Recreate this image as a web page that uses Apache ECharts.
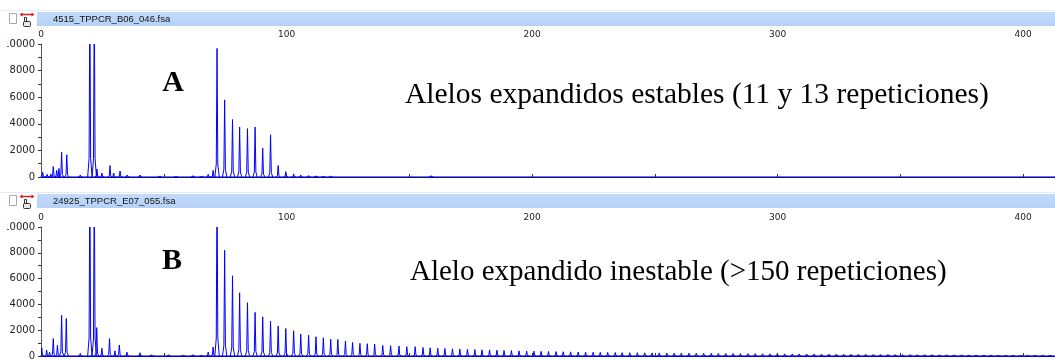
<!DOCTYPE html>
<html>
<head>
<meta charset="utf-8">
<script src="https://cdn.jsdelivr.net/npm/echarts@6/dist/echarts.min.js"></script>
<style>
  html, body { margin: 0; padding: 0; background: #ffffff; overflow: hidden; }
  #chart { position: absolute; left: 0; top: 0; width: 1055px; height: 361px; }
</style>
</head>
<body>
<div id="chart"></div>
<script>
// Fragment size axis (bp) and signal axis (RFU)
const xTickLabels = [0, 100, 200, 300, 400];
const yTickLabels = [0, 2000, 4000, 6000, 8000, 10000];

const fileA = '4515_TPPCR_B06_046.fsa';
const fileB = '24925_TPPCR_E07_055.fsa';
const noteA = 'Alelos expandidos estables (11 y 13 repeticiones)';
const noteB = 'Alelo expandido inestable (>150 repeticiones)';

// Panel A: peak positions (bp) and heights (RFU)
const peaksAPos = [
  0.7, 2.5, 4.0, 5.0, 6.4, 7.3, 8.4, 10.5, 16.0, 19.9, 21.7, 22.8, 24.8, 28.1, 29.6,
  32.2, 35.1, 40.3, 48.4, 55.0, 61.9, 65.4, 68.1, 70.1,
  71.7, 74.8, 78.0, 80.9, 84.1, 87.2, 90.3, 93.5, 96.6, 99.7, 102.9, 105.8, 109.0,
  112.0, 115.0, 118.0, 158.9
];
const peaksAHeight = [
  350, 200, 220, 780, 500, 650, 1870, 1670, 150, 14000, 14000, 600, 300, 860, 300,
  450, 150, 150, 80, 60, 100, 70, 200, 500,
  9670, 5800, 4320, 3760, 3640, 3760, 2170, 3180, 860, 400, 230, 150, 110,
  90, 70, 60, 100
];

// Panel B: peak positions (bp) and heights (RFU)
const peaksBPos = [
  0.3, 2.3, 3.5, 5.0, 6.7, 8.4, 10.3, 16.0, 19.9, 21.7, 22.7, 24.8, 27.9, 30.1,
  31.9, 35.0, 40.3, 45.0, 52.0, 58.0, 61.9, 65.4, 68.1, 70.1,
  71.7, 74.8, 78.0, 80.9, 84.1, 87.2, 90.3, 93.5, 96.6, 99.7, 102.9, 105.8, 109.0,
  112.0, 115.0, 118.0, 120.9, 124.0, 126.9, 129.9, 132.9, 135.9, 139.2, 142.4,
  145.8, 149.0, 152.4, 155.6, 158.5,
  161.6, 164.5, 167.6, 170.6, 173.7, 176.7, 179.6, 182.7, 185.7, 188.6, 191.6,
  194.7, 197.8, 200.8, 203.7, 206.7, 209.8, 212.7, 215.7, 218.8, 221.8, 224.9,
  227.8, 230.8, 233.9, 236.7, 239.8, 242.9, 245.9, 248.9, 251.8, 254.9, 257.9,
  260.8, 263.9, 266.9, 269.9, 273.0, 275.9, 278.9, 281.9, 284.9, 288.0, 290.9,
  293.9, 296.9, 299.9, 302.9, 306.0, 308.8, 311.9, 314.9, 317.9, 320.9, 323.9,
  326.9, 329.9, 332.9, 335.9, 339.0, 341.9, 345.0, 347.9, 350.9, 354.0, 356.9,
  359.9, 362.9, 365.9, 368.9, 371.9, 375.0, 377.9, 380.9, 384.0, 386.9, 389.9,
  392.9, 395.9, 399.0, 401.9, 404.9, 408.0, 411.0
];
const peaksBHeight = [
  640, 460, 300, 1350, 840, 3150, 2900, 200, 14000, 14000, 2200, 600, 1350, 400,
  850, 300, 250, 100, 100, 80, 100, 80, 300, 700,
  14000, 8200, 6220, 4900, 4130, 3380, 3030, 2690, 2330, 2130, 1950, 1690, 1610,
  1490, 1410, 1300, 1280, 1160, 1050, 980, 950, 920, 820, 800,
  770, 720, 720, 660, 640,
  600, 590, 560, 540, 520, 500, 480, 470, 450, 430, 420,
  400, 390, 380, 360, 350, 340, 330, 320, 310, 300, 290,
  285, 275, 270, 260, 255, 250, 245, 240, 235, 230, 225,
  220, 215, 210, 205, 200, 200, 195, 190, 185, 180, 180,
  175, 170, 170, 165, 160, 160, 155, 150, 150, 145, 140,
  140, 135, 130, 130, 125, 120, 120, 115, 110, 110, 105,
  100, 100, 95, 95, 90, 90, 85, 85, 80, 80, 75,
  75, 70, 70, 65, 65, 60, 60
];

const TRACE = '#0000ff';
const PEAK_HALF_WIDTH = 2.2; // px at the base of each peak
const X_MAX = 413;
const GRID_LEFT = 41, GRID_WIDTH = 1015, GRID_HEIGHT = 133;
const PANEL_TOPS = [44, 227];
const FONT_UI = 'DejaVu Sans';

function pairs(pos, h) { return pos.map((p, i) => [p, h[i]]); }

// Each peak is a narrow spike drawn from its base at 0 up to its height
function renderPeak(params, api) {
  const x = api.value(0), h = api.value(1);
  const b = api.coord([x, 0]);
  const t = api.coord([x, h]);
  const dh = b[1] - t[1];
  const w = PEAK_HALF_WIDTH;
  return {
    type: 'polyline',
    shape: { points: [
      [b[0] - w, b[1]],
      [b[0] - w * 0.35, b[1] - dh * 0.1],
      [t[0], t[1]],
      [b[0] + w * 0.35, b[1] - dh * 0.1],
      [b[0] + w, b[1]]
    ] },
    style: { stroke: TRACE, fill: null, lineWidth: 1 }
  };
}

function topAxis(gi) {
  return {
    gridIndex: gi, type: 'value', position: 'top', min: 0, max: X_MAX, interval: 50,
    axisLine: { show: true, lineStyle: { color: '#5a5a5a', width: 1.5 } },
    axisTick: { show: true, length: 3, lineStyle: { color: '#333', width: 1 } },
    axisLabel: {
      show: true, margin: 5, color: '#222', fontFamily: FONT_UI, fontSize: 9,
      showMaxLabel: false,
      formatter: v => (xTickLabels.indexOf(v) >= 0 ? String(v) : '')
    },
    splitLine: { show: false }
  };
}
function baseAxis(gi) {
  return {
    gridIndex: gi, type: 'value', position: 'bottom', min: 0, max: X_MAX,
    axisLine: { show: true, onZero: false, lineStyle: { color: TRACE, width: 1 } },
    axisTick: { show: false }, axisLabel: { show: false }, splitLine: { show: false }
  };
}
function leftAxis(gi) {
  return {
    gridIndex: gi, type: 'value', min: 0, max: 10000, interval: 1000,
    axisLine: { show: true, lineStyle: { color: '#555', width: 1 } },
    axisTick: { show: true, length: 3, lineStyle: { color: '#333', width: 1 } },
    axisLabel: {
      show: true, margin: 6, color: '#222', fontFamily: FONT_UI, fontSize: 10,
      formatter: v => (yTickLabels.indexOf(v) >= 0 ? String(v) : '')
    },
    splitLine: { show: false }
  };
}

// Window header strip of each trace panel (checkbox, tool icon, file name)
function header(y, name) {
  return [
    { type: 'rect', shape: { x: 0, y: y - 2, width: 1055, height: 1 }, style: { fill: '#e2ebf6' }, silent: true },
    { type: 'rect', shape: { x: 37, y: y, width: 1018, height: 14 },
      style: { fill: new echarts.graphic.LinearGradient(0, 0, 0, 1, [
        { offset: 0, color: '#c3dafb' }, { offset: 1, color: '#b6d1f8' }]) }, silent: true },
    { type: 'rect', shape: { x: 9.5, y: y + 1.5, width: 7, height: 10 },
      style: { fill: '#ffffff', stroke: '#a9a9a9', lineWidth: 1 }, silent: true },
    // red double arrow
    { type: 'line', shape: { x1: 21, y1: y + 2.5, x2: 33, y2: y + 2.5 },
      style: { stroke: '#d42020', lineWidth: 1.5 }, silent: true },
    { type: 'polygon', shape: { points: [[19.5, y + 2.5], [22.5, y + 0.5], [22.5, y + 4.5]] },
      style: { fill: '#d42020' }, silent: true },
    { type: 'polygon', shape: { points: [[34.5, y + 2.5], [31.5, y + 0.5], [31.5, y + 4.5]] },
      style: { fill: '#d42020' }, silent: true },
    // hand pointer
    { type: 'rect', shape: { x: 24.5, y: y + 5.5, width: 2, height: 6 },
      style: { fill: '#ffffff', stroke: '#333', lineWidth: 1 }, silent: true },
    { type: 'rect', shape: { x: 23.5, y: y + 9.5, width: 7, height: 5, r: 1 },
      style: { fill: '#e8e8e8', stroke: '#333', lineWidth: 1 }, silent: true },
    { type: 'text', x: 53, y: y + 7,
      style: { text: name, fill: '#111', font: '9.5px "Liberation Sans"', textVerticalAlign: 'middle' }, silent: true }
  ];
}

// left edge of the trace window: it hides the leading digit of the widest y label
function windowEdge(top) {
  return { type: 'rect', z: 100, silent: true,
    shape: { x: 0, y: top - 8, width: 7.3, height: 16 }, style: { fill: '#ffffff' } };
}

const chart = echarts.init(document.getElementById('chart'), null, { renderer: 'canvas' });

chart.setOption({
  animation: false,
  backgroundColor: '#ffffff',
  grid: PANEL_TOPS.map(t => ({ left: GRID_LEFT, top: t, width: GRID_WIDTH, height: GRID_HEIGHT, containLabel: false })),
  xAxis: [topAxis(0), baseAxis(0), topAxis(1), baseAxis(1)],
  yAxis: [leftAxis(0), leftAxis(1)],
  series: [
    { type: 'custom', name: fileA, xAxisIndex: 0, yAxisIndex: 0, clip: true,
      renderItem: renderPeak, encode: { x: 0, y: 1 }, data: pairs(peaksAPos, peaksAHeight) },
    { type: 'custom', name: fileB, xAxisIndex: 2, yAxisIndex: 1, clip: true,
      renderItem: renderPeak, encode: { x: 0, y: 1 }, data: pairs(peaksBPos, peaksBHeight) }
  ],
  graphic: [].concat(
    header(12, fileA),
    header(194, fileB),
    PANEL_TOPS.map(windowEdge),
    [
      { type: 'text', x: 173, y: 83, silent: true,
        style: { text: 'A', fill: '#000', font: 'bold 30px "Liberation Serif"', textAlign: 'center', textVerticalAlign: 'middle' } },
      { type: 'text', x: 172, y: 261, silent: true,
        style: { text: 'B', fill: '#000', font: 'bold 30px "Liberation Serif"', textAlign: 'center', textVerticalAlign: 'middle' } },
      { type: 'text', x: 405, y: 110, silent: true,
        style: { text: noteA, fill: '#000', font: '29.5px "Liberation Serif"', textVerticalAlign: 'bottom' } },
      { type: 'text', x: 410, y: 287, silent: true,
        style: { text: noteB, fill: '#000', font: '29px "Liberation Serif"', textVerticalAlign: 'bottom' } }
    ]
  )
});
</script>
</body>
</html>
